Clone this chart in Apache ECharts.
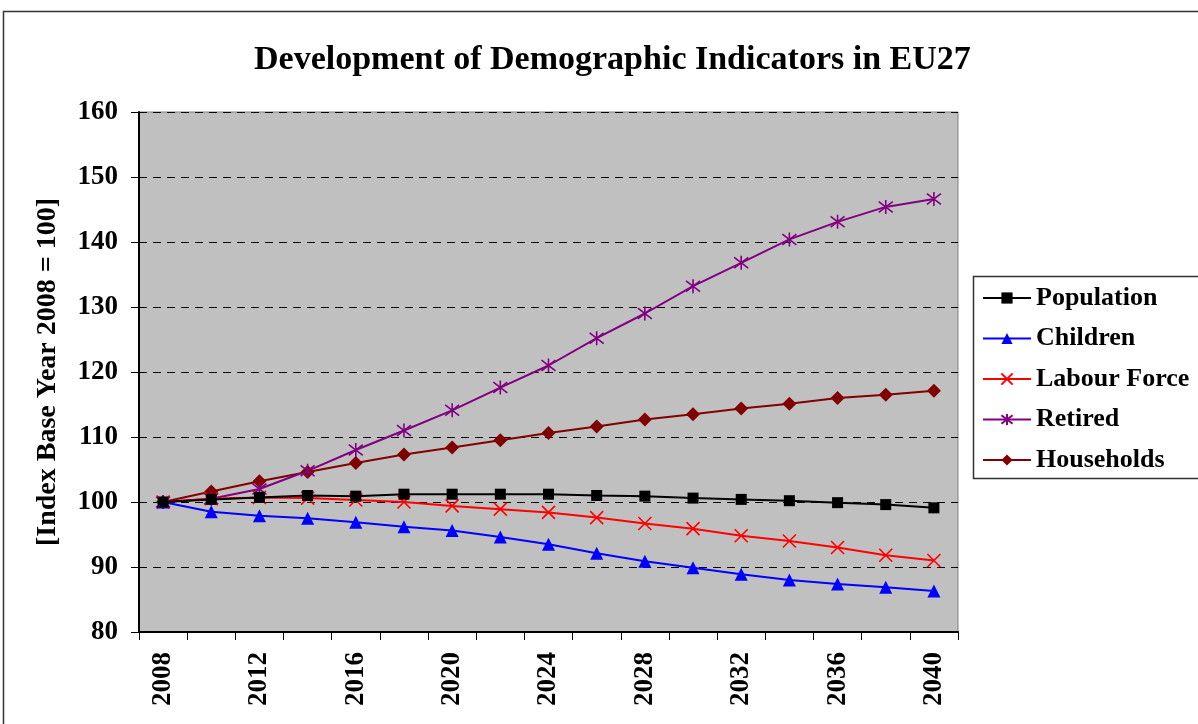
<!DOCTYPE html>
<html>
<head>
<meta charset="utf-8">
<script src="https://cdn.jsdelivr.net/npm/echarts@6/dist/echarts.min.js"></script>
<style>
  html, body { margin: 0; padding: 0; background: #fff; }
  #chart { width: 1198px; height: 724px; }
</style>
</head>
<body>
<div id="chart"></div>
<script>
const years = ["2008", "2010", "2012", "2014", "2016", "2018", "2020", "2022", "2024",
  "2026", "2028", "2030", "2032", "2034", "2036", "2038", "2040"];

const population = [100, 100.4, 100.7, 101.0, 100.9, 101.2, 101.2, 101.2, 101.2,
  101.0, 100.9, 100.6, 100.4, 100.2, 99.9, 99.6, 99.1];
const children = [100, 98.5, 97.9, 97.5, 96.9, 96.2, 95.6, 94.6, 93.5,
  92.1, 90.9, 89.9, 88.9, 88.0, 87.4, 86.9, 86.3];
const labourForce = [100, 100.5, 100.7, 100.6, 100.3, 100.0, 99.4, 98.9, 98.4,
  97.6, 96.7, 95.9, 94.8, 94.0, 93.0, 91.8, 91.0];
const retired = [100, 100.5, 102.0, 104.8, 108.0, 111.0, 114.1, 117.6, 121.0,
  125.2, 129.0, 133.2, 136.8, 140.4, 143.1, 145.4, 146.6];
const households = [100, 101.6, 103.2, 104.6, 106.0, 107.3, 108.4, 109.5, 110.6,
  111.6, 112.7, 113.5, 114.4, 115.1, 116.0, 116.5, 117.1];

const serif = "Liberation Serif";
const crossPath = "path://M0,0L10,10M10,0L0,10";
const starPath = "path://M0,0L10,10M10,0L0,10M5,-1.5L5,11.5";

function makeSeries(name, data, color, symbol, size, stroke) {
  return {
    name: name,
    type: "line",
    data: data,
    symbol: symbol,
    symbolSize: size,
    showAllSymbol: true,
    lineStyle: { color: color, width: 2 },
    itemStyle: stroke
      ? { color: color, borderColor: color, borderWidth: 1.6 }
      : { color: color, borderWidth: 0 },
    emphasis: { disabled: true },
    animation: false
  };
}

const chart = echarts.init(document.getElementById("chart"));

chart.setOption({
  backgroundColor: "#fff",
  title: {
    text: "Development of Demographic Indicators in EU27",
    left: 249,
    top: 38,
    textStyle: { fontFamily: serif, fontWeight: "bold", fontSize: 34, color: "#000" }
  },
  graphic: [
    {
      type: "rect",
      shape: { x: 3.5, y: 11.5, width: 1300, height: 800 },
      style: { fill: "none", stroke: "#333", lineWidth: 1.5 },
      silent: true
    },
    {
      type: "rect",
      shape: { x: 973.5, y: 276.5, width: 300, height: 202 },
      style: { fill: "#fff", stroke: "#333", lineWidth: 1.5 },
      silent: true,
      z: -1
    }
  ],
  legend: {
    orient: "vertical",
    left: 982,
    top: 285,
    itemWidth: 48,
    itemHeight: 14,
    itemGap: 14.5,
    padding: 0,
    textStyle: { fontFamily: serif, fontWeight: "bold", fontSize: 26, lineHeight: 26, color: "#000" },
    data: ["Population", "Children", "Labour Force", "Retired", "Households"]
  },
  grid: {
    left: 139,
    top: 112,
    width: 819,
    height: 520,
    show: true,
    backgroundColor: "#c0c0c0",
    borderColor: "#808080",
    borderWidth: 1
  },
  xAxis: {
    type: "category",
    data: years,
    boundaryGap: true,
    axisLine: { lineStyle: { color: "#000", width: 2 } },
    axisTick: { show: true, interval: 0, length: 8, lineStyle: { color: "#000", width: 1 } },
    axisLabel: {
      interval: 1,
      rotate: 90,
      margin: 20,
      fontFamily: serif,
      fontWeight: "bold",
      fontSize: 27,
      color: "#000"
    },
    splitLine: { show: false }
  },
  yAxis: {
    type: "value",
    min: 80,
    max: 160,
    interval: 10,
    name: "[Index Base Year 2008 = 100]",
    nameLocation: "middle",
    nameRotate: 90,
    nameGap: 77,
    nameTextStyle: { fontFamily: serif, fontWeight: "bold", fontSize: 28, color: "#000" },
    axisLine: { show: true, lineStyle: { color: "#000", width: 2 } },
    axisTick: { show: true, length: 8, lineStyle: { color: "#000" } },
    axisLabel: {
      margin: 21,
      fontFamily: serif,
      fontWeight: "bold",
      fontSize: 27,
      color: "#000"
    },
    splitLine: { show: true, lineStyle: { color: "#000", type: [8, 6], width: 1 } }
  },
  series: [
    makeSeries("Households", households, "#800000", "diamond", 14, false),
    makeSeries("Retired", retired, "#800080", starPath, 14, true),
    makeSeries("Labour Force", labourForce, "#ff0000", crossPath, 13, true),
    makeSeries("Children", children, "#0000ff", "triangle", 13, false),
    makeSeries("Population", population, "#000000", "rect", 11, false)
  ]
});
</script>
</body>
</html>
